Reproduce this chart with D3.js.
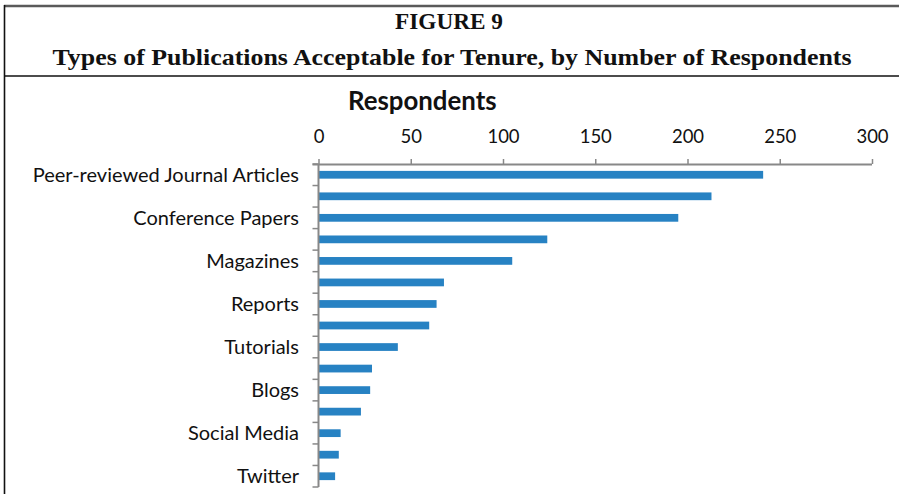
<!DOCTYPE html>
<html>
<head>
<meta charset="utf-8">
<script src="https://cdn.jsdelivr.net/npm/d3@7"></script>
<style>
  html, body { margin: 0; padding: 0; background: #fff; }
  svg { display: block; }
</style>
</head>
<body>
<svg id="chart" width="899" height="494"></svg>
<script>
// Publication types, in survey order (only every other one gets a visible label)
const categories = [
  "Peer-reviewed Journal Articles",
  "Books",
  "Conference Papers",
  "Book Chapters",
  "Magazines",
  "Conference Presentations",
  "Reports",
  "Posters",
  "Tutorials",
  "Websites",
  "Blogs",
  "Wikis",
  "Social Media",
  "Podcasts",
  "Twitter"
];
const respondents = [241, 213, 195, 124, 105, 68, 64, 60, 43, 29, 28, 23, 12, 11, 9];
const xTicks = [0, 50, 100, 150, 200, 250, 300];

const figureLabel = "FIGURE 9";
const figureTitle = "Types of Publications Acceptable for Tenure, by Number of Respondents";
const axisTitle = "Respondents";

(function () {
  const svg = d3.select("#chart");
  const W = 899, H = 494;

  // Frame around the figure
  svg.append("line").attr("x1", 4).attr("x2", W).attr("y1", 6).attr("y2", 6)
    .attr("stroke", "#5a5a5a").attr("stroke-width", 2.5);
  svg.append("line").attr("x1", 4.5).attr("x2", 4.5).attr("y1", 5).attr("y2", H)
    .attr("stroke", "#111").attr("stroke-width", 1.6);
  svg.append("line").attr("x1", 4).attr("x2", W).attr("y1", 76).attr("y2", 76)
    .attr("stroke", "#111").attr("stroke-width", 1.3);

  // Figure heading
  svg.append("text").attr("x", 449).attr("y", 28.5)
    .attr("text-anchor", "middle")
    .attr("font-family", "'Liberation Serif', 'DejaVu Serif', serif")
    .attr("font-weight", "bold").attr("font-size", 23)
    .attr("textLength", 108).attr("lengthAdjust", "spacingAndGlyphs")
    .attr("fill", "#111")
    .text(figureLabel);
  svg.append("text").attr("x", 452).attr("y", 65)
    .attr("text-anchor", "middle")
    .attr("font-family", "'Liberation Serif', 'DejaVu Serif', serif")
    .attr("font-weight", "bold").attr("font-size", 24)
    .attr("textLength", 799).attr("lengthAdjust", "spacingAndGlyphs")
    .attr("fill", "#111")
    .text(figureTitle);

  // Plot area
  const plotLeft = 318.5, plotRight = 872, plotTop = 164, plotBottom = 487;

  const x = d3.scaleLinear().domain([0, 300]).range([plotLeft, plotRight]);
  const y = d3.scaleBand().domain(categories).range([plotTop, plotBottom])
    .paddingInner(0.64).paddingOuter(0.32);

  const sans = "Lato, 'Open Sans', 'Liberation Sans', sans-serif";

  // Axis title
  svg.append("text").attr("x", 348).attr("y", 110)
    .attr("font-family", sans).attr("font-weight", "bold").attr("font-size", 25.8)
    .attr("fill", "#111")
    .text(axisTitle);

  // Bars
  svg.append("g").selectAll("rect")
    .data(categories.map((c, i) => ({ c, v: respondents[i] })))
    .join("rect")
    .attr("x", x(0))
    .attr("y", d => y(d.c))
    .attr("width", d => x(d.v) - x(0))
    .attr("height", y.bandwidth())
    .attr("fill", "#2782c3");

  // Value axis along the top
  const xAxis = svg.append("g")
    .attr("transform", `translate(0,${plotTop})`)
    .call(d3.axisTop(x).tickValues(xTicks).tickSize(5).tickPadding(16).tickSizeOuter(0));
  xAxis.select(".domain").attr("stroke", "#888").attr("stroke-width", 2)
    .attr("d", `M${plotLeft - 6},0.5H${plotRight}`);
  xAxis.selectAll(".tick line").attr("stroke", "#888").attr("stroke-width", 1.5);
  xAxis.selectAll(".tick text")
    .attr("font-family", sans).attr("font-size", 18.5).attr("fill", "#111");

  // Category axis: ticks at band boundaries, labels on every other category
  const n = categories.length;
  const boundaries = d3.range(n + 1).map(i => plotTop + i * (plotBottom - plotTop) / n);
  const yAxisG = svg.append("g");
  yAxisG.append("line").attr("x1", plotLeft).attr("x2", plotLeft)
    .attr("y1", plotTop).attr("y2", plotBottom)
    .attr("stroke", "#888").attr("stroke-width", 2);
  yAxisG.selectAll("line.tk").data(boundaries).join("line").attr("class", "tk")
    .attr("x1", plotLeft - 6).attr("x2", plotLeft).attr("y1", d => d).attr("y2", d => d)
    .attr("stroke", "#888").attr("stroke-width", 1.5);

  yAxisG.selectAll("text")
    .data(categories.filter((c, i) => i % 2 === 0))
    .join("text")
    .attr("x", 299)
    .attr("y", d => y(d) + y.bandwidth() / 2)
    .attr("dy", "0.36em")
    .attr("text-anchor", "end")
    .attr("font-family", sans).attr("font-size", 20).attr("fill", "#111")
    .text(d => d);
})();
</script>
</body>
</html>
